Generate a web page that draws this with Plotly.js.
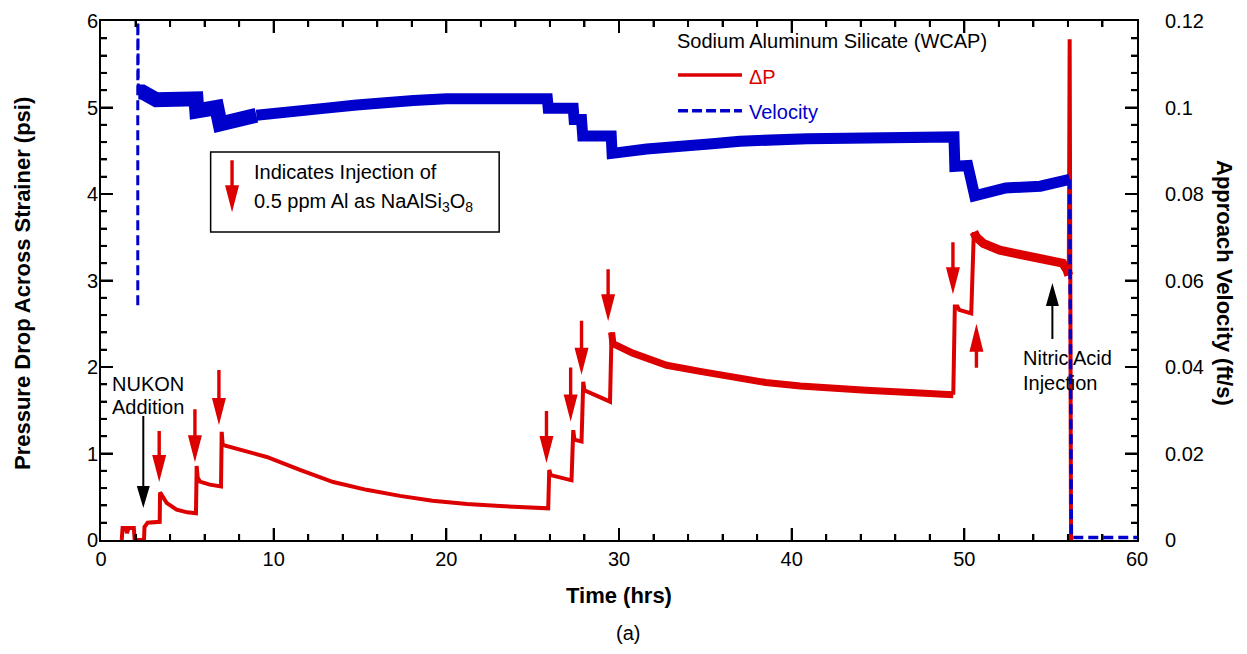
<!DOCTYPE html>
<html>
<head>
<meta charset="utf-8">
<script src="https://cdn.plot.ly/plotly-3.0.1.min.js"></script>
<style>html,body{margin:0;padding:0;background:#fff;}#chart{width:1247px;height:654px;}</style>
</head>
<body>
<div id="chart"></div>
<script>
// ---------------- DATA ----------------
// Pressure drop (psi) vs time (hrs), split in segments by visual band thickness
const dpTimeA = [1.2,1.25,1.45,1.5,1.6,1.9,1.95,2.49,2.52,2.7,3.4,3.42,3.8,4.38,5.0,5.5,5.54,5.6,5.73,6.3,6.95,6.99,7.05,8.0,9.6,11.52,13.45,15.38,17.31,19.2,21.2,23.1,25.9,25.96,26.05,27.25,27.35,27.42,27.83,27.93,28.0,29.48,29.57];
const dpValA  = [0,0.14,0.14,0.08,0.14,0.14,0,0,0.15,0.2,0.21,0.55,0.43,0.35,0.32,0.31,0.855,0.72,0.675,0.64,0.62,1.25,1.1,1.05,0.96,0.81,0.67,0.58,0.51,0.455,0.416,0.393,0.366,0.81,0.75,0.69,1.27,1.16,1.14,1.83,1.73,1.60,2.40];
const dpTimeB = [29.57,29.65,30.8,32.76,34.7,36.6,38.5,40.5,42.4,44.3,46.3,48.2,49.36];
const dpValB  = [2.40,2.27,2.16,2.02,1.95,1.88,1.82,1.78,1.75,1.73,1.71,1.70,1.68];
const dpTimeC = [49.36,49.45,49.6,49.7,50.4,50.55];
const dpValC  = [1.68,2.70,2.70,2.66,2.62,3.56];
const dpTimeD = [50.55,50.7,51.1,52.05,53.0,54.0,54.95,55.7,55.95,56.05];
const dpValD  = [3.56,3.50,3.43,3.35,3.31,3.27,3.24,3.20,3.12,3.06];
const dpTimeE = [56.05,56.1,56.18];
const dpValE  = [3.06,5.79,-0.05];

// Approach velocity (ft/s) vs time (hrs)
const velTimeStart = [2.13,2.13,2.16];
const velValStart  = [0.0543,0.125,0.1036];
const velTimeEarly = [2.16,2.4,3.2,4.2,5.5,5.55,6.7,6.9,8.0,9.0];
const velValEarly  = [0.1036,0.1036,0.1018,0.1016,0.1020,0.0992,0.1000,0.0962,0.0974,0.0982];
const velTimeMain  = [9.0,10.9,12.9,14.8,16.5,18.1,20.0,21.9,23.9,25.85,25.9,27.35,27.4,27.83,27.9,29.55,29.6,31.6,35.4,37.0,40.9,44.7,48.6,49.4,49.45,50.2,50.6,52.4,54.4,55.9,56.1];
const velValMain   = [0.0982,0.0992,0.0998,0.1006,0.1008,0.1016,0.1020,0.1020,0.1020,0.1020,0.0998,0.0998,0.0972,0.0972,0.0934,0.0934,0.0894,0.0904,0.0916,0.0922,0.0928,0.0930,0.0932,0.0932,0.0864,0.0866,0.0796,0.0814,0.0818,0.0828,0.0834];
const velTimeEnd   = [56.1,56.2,60];
const velValEnd    = [0.0834,0.0006,0.0006];

// Labels
const legendTitle = 'Sodium Aluminum Silicate (WCAP)';
const seriesNames = ['\u0394P','Velocity'];
const xTitle = 'Time (hrs)';
const yTitle = 'Pressure Drop Across Strainer (psi)';
const y2Title = 'Approach Velocity (ft/s)';
const boxLines = ['Indicates Injection of','0.5 ppm Al as NaAlSi<sub>3</sub>O<sub>8</sub>'];
const nukonLines = ['NUKON','Addition'];
const nitricLines = ['Nitric Acid','Injection'];
const caption = '(a)';

// ---------------- STYLE ----------------
const RED = '#dd0000', BLUE = '#0000cc';
const FONT = 'Liberation Sans, Arial, sans-serif';
const FS = 20;
const X_RANGE = [0, 60], Y_RANGE = [0, 6], Y2_RANGE = [0, 0.12];

function dpTrace(x, y, w) {
  return {x, y, type:'scatter', mode:'lines', line:{color:RED, width:w}, showlegend:false, hoverinfo:'skip'};
}
function velTrace(x, y, w, dash) {
  return {x, y, yaxis:'y2', type:'scatter', mode:'lines', line:{color:BLUE, width:w, dash:dash||'solid'}, showlegend:false, hoverinfo:'skip'};
}

const traces = [
  dpTrace(dpTimeA, dpValA, 4),
  dpTrace(dpTimeB, dpValB, 7),
  dpTrace(dpTimeC, dpValC, 4),
  dpTrace(dpTimeD, dpValD, 9),
  dpTrace(dpTimeE, dpValE, 4),
  velTrace(velTimeStart, velValStart, 3, '10px,5px'),
  velTrace(velTimeEarly, velValEarly, 15),
  velTrace(velTimeMain, velValMain, 11),
  velTrace(velTimeEnd, velValEnd, 3.5, '10px,5px')
];

// arrows: tip anchored at (t, v) in data units; geometry in pixels
function arrowPath(len, hh, hw, sw, dir) {
  const p = (x, y) => x + ',' + (dir * y);
  return 'M' + p(-sw/2, len) + ' L' + p(sw/2, len) + ' L' + p(sw/2, hh) + ' L' + p(hw/2, hh) +
         ' L' + p(0, 0) + ' L' + p(-hw/2, hh) + ' L' + p(-sw/2, hh) + ' Z';
}
function arrowShape(t, v, len, dir, color, hh, hw, sw) {
  return {type:'path', xref:'x', yref:'y', xsizemode:'pixel', ysizemode:'pixel', xanchor:t, yanchor:v,
          path: arrowPath(len, hh, hw, sw, dir), fillcolor:color, line:{width:0}, layer:'above'};
}
const shapes = [
  arrowShape(3.37, 0.67, 51, 1, RED, 27, 14, 3.4),
  arrowShape(5.44, 0.90, 53, 1, RED, 27, 14, 3.4),
  arrowShape(6.83, 1.33, 55, 1, RED, 27, 14, 3.4),
  arrowShape(25.8, 0.89, 52, 1, RED, 27, 14, 3.4),
  arrowShape(27.2, 1.37, 54, 1, RED, 27, 14, 3.4),
  arrowShape(27.83, 1.91, 54, 1, RED, 27, 14, 3.4),
  arrowShape(29.37, 2.53, 52, 1, RED, 27, 14, 3.4),
  arrowShape(49.34, 2.84, 52, 1, RED, 27, 14, 3.4),
  arrowShape(50.7, 2.50, 44, -1, RED, 28, 14, 3.4),
  arrowShape(7.59, 3.79, 52, 1, RED, 27, 14, 3.4),
  arrowShape(2.45, 0.37, 92, 1, '#000', 22, 13, 2),
  arrowShape(55.1, 2.97, 56, -1, '#000', 23, 13, 2),
  {type:'rect', xref:'x', yref:'y', x0:6.35, x1:23.06, y0:3.56, y1:4.486, line:{color:'#000', width:1.5}, fillcolor:'rgba(0,0,0,0)'},
  {type:'line', xref:'paper', yref:'paper', x0:0.557, x1:0.6187, y0:0.896, y1:0.896, line:{color:RED, width:3.5}},
  {type:'line', xref:'paper', yref:'paper', x0:0.557, x1:0.6187, y0:0.8272, y1:0.8272, line:{color:BLUE, width:3.5, dash:'10px,4px'}}
];

// tick marks on all four frame sides (inside), positioned through the axes' own scales
const X_MINOR = 2, X_MAJOR = 10, Y_MINOR = 0.2, Y_MAJOR = 1;
const tickLine = {color:'#000', width:2};
for (let k = 1; k * X_MINOR < X_RANGE[1]; k++) {
  const t = k * X_MINOR, len = (k % (X_MAJOR / X_MINOR) === 0) ? 12 : 6;
  shapes.push({type:'line', xref:'x', yref:'paper', ysizemode:'pixel', yanchor:0, x0:t, x1:t, y0:0, y1:len, line:tickLine, layer:'above'});
  shapes.push({type:'line', xref:'x', yref:'paper', ysizemode:'pixel', yanchor:1, x0:t, x1:t, y0:0, y1:-len, line:tickLine, layer:'above'});
}
for (let k = 1; k * Y_MINOR < Y_RANGE[1] - 1e-9; k++) {
  const v = k * Y_MINOR, len = (k % Math.round(Y_MAJOR / Y_MINOR) === 0) ? 12 : 6;
  shapes.push({type:'line', xref:'paper', yref:'y', xsizemode:'pixel', xanchor:0, y0:v, y1:v, x0:0, x1:len, line:tickLine, layer:'above'});
  shapes.push({type:'line', xref:'paper', yref:'y', xsizemode:'pixel', xanchor:1, y0:v, y1:v, x0:0, x1:-len, line:tickLine, layer:'above'});
}

function txt(text, x, y, opts) {
  return Object.assign({text, x, y, xref:'x', yref:'y', showarrow:false, xanchor:'left', yanchor:'middle',
    font:{family:FONT, size:FS, color:'#000'}}, opts||{});
}
const bold = () => ({family:FONT, size:22, weight:'bold', color:'#000'});
const annotations = [
  txt(legendTitle, 0.554, 0.9615, {xref:'paper', yref:'paper'}),
  txt(seriesNames[0], 0.6236, 0.892, {xref:'paper', yref:'paper', font:{family:FONT, size:FS, color:RED}}),
  txt(seriesNames[1], 0.6236, 0.8247, {xref:'paper', yref:'paper', font:{family:FONT, size:FS, color:BLUE}}),
  txt(boxLines[0], 8.74, 4.25),
  txt(boxLines[1], 8.74, 3.90),
  txt(nukonLines[0], 0.52, 1.80),
  txt(nukonLines[1], 0.52, 1.54),
  txt(nitricLines[0], 53.27, 2.10),
  txt(nitricLines[1], 53.27, 1.815),
  txt(xTitle, 0.5, -0.106, {xref:'paper', yref:'paper', xanchor:'center', font:bold()}),
  txt(yTitle, -0.0763, 0.495, {xref:'paper', yref:'paper', xanchor:'center', textangle:-90, font:bold()}),
  txt(y2Title, 1.085, 0.495, {xref:'paper', yref:'paper', xanchor:'center', textangle:90, font:bold()}),
  txt(caption, 0.5087, -0.179, {xref:'paper', yref:'paper', xanchor:'center'})
];

function axisBase() {
  return {showline:true, linecolor:'#000', linewidth:2, showgrid:false, zeroline:false,
    ticks:'inside', ticklen:12, tickwidth:2, tickcolor:'#000',
    tickfont:{family:FONT, size:FS, color:'#000'}};
}
const minorStyle = () => ({ticks:'inside', ticklen:6, tickwidth:2, tickcolor:'#000'});

const layout = {
  width:1247, height:654,
  margin:{l:101, r:110, t:21, b:114},
  paper_bgcolor:'#fff', plot_bgcolor:'#fff',
  showlegend:false,
  font:{family:FONT, size:FS, color:'#000'},
  xaxis: Object.assign(axisBase(), {range:X_RANGE, dtick:X_MAJOR, tick0:0, mirror:'ticks',
    minor:Object.assign({dtick:X_MINOR}, minorStyle())}),
  yaxis: Object.assign(axisBase(), {range:Y_RANGE, dtick:Y_MAJOR, tick0:0, ticklabelstandoff:-3,
    minor:Object.assign({dtick:Y_MINOR}, minorStyle())}),
  yaxis2: Object.assign(axisBase(), {range:Y2_RANGE, dtick:0.02, tick0:0, overlaying:'y', side:'right',
    ticklabelstandoff:22, minor:Object.assign({dtick:0.004}, minorStyle())}),
  shapes, annotations
};

Plotly.newPlot('chart', traces, layout, {staticPlot:true, displayModeBar:false});
</script>
</body>
</html>
